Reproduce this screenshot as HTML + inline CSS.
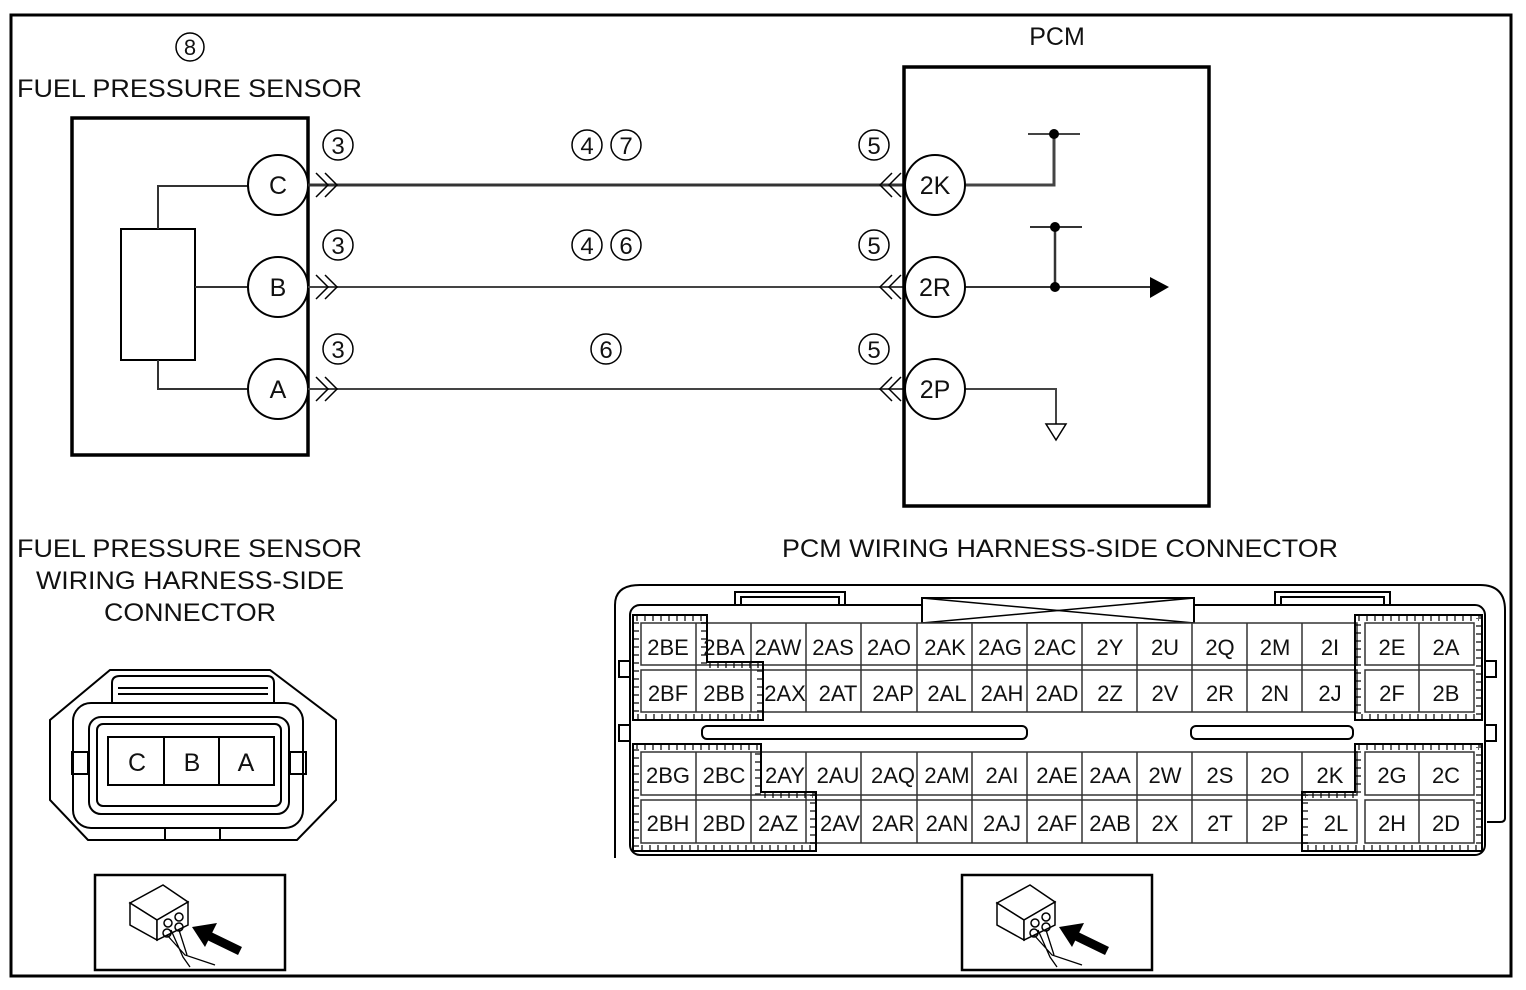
<!DOCTYPE html>
<html><head><meta charset="utf-8"><style>
html,body{margin:0;padding:0;background:#fff}
svg{display:block}
text{font-family:"Liberation Sans",sans-serif;fill:#111}
</style></head><body>
<svg width="1526" height="990" viewBox="0 0 1526 990" xmlns="http://www.w3.org/2000/svg">
<defs>
<g id="icon">
<rect x="0" y="0" width="190" height="95" fill="#fff" stroke="#000" stroke-width="2.5"/>
<polygon points="35,28 68,10 93,27 62,45" fill="#fff" stroke="#000" stroke-width="1.5"/>
<polygon points="35,28 62,45 62,65 35,50" fill="#fff" stroke="#000" stroke-width="1.5"/>
<polygon points="62,45 93,27 93,50 62,65" fill="#fff" stroke="#000" stroke-width="1.5"/>
<circle cx="73" cy="48" r="4" fill="none" stroke="#000" stroke-width="1.5"/>
<circle cx="84" cy="42" r="4" fill="none" stroke="#000" stroke-width="1.5"/>
<circle cx="72" cy="58" r="4" fill="none" stroke="#000" stroke-width="1.5"/>
<circle cx="84" cy="52" r="4" fill="none" stroke="#000" stroke-width="1.5"/>
<path d="M72,60 L90,80 L120,90 M76,55 L88,82 L95,92 M84,55 L92,80" fill="none" stroke="#000" stroke-width="1.3"/>
<line x1="112" y1="60" x2="145" y2="76" stroke="#000" stroke-width="9"/>
<polygon points="97,52 122,48 110,72" fill="#000"/>
</g>
</defs>
<rect x="11" y="15" width="1500" height="961" fill="none" stroke="#000" stroke-width="3"/>

<circle cx="190" cy="47" r="14" fill="none" stroke="#000" stroke-width="1.5"/>
<text x="190" y="55" font-size="22" text-anchor="middle">8</text>
<text x="17" y="97" font-size="25" textLength="345" lengthAdjust="spacingAndGlyphs">FUEL PRESSURE SENSOR</text>
<text x="1057" y="45" font-size="25" text-anchor="middle">PCM</text>

<rect x="72" y="118" width="236" height="337" fill="none" stroke="#000" stroke-width="3.5"/>
<rect x="121" y="229" width="74" height="131" fill="#fff" stroke="#000" stroke-width="2"/>
<path d="M158,229 V186 H248 M195,287 H248 M158,360 V389 H248" fill="none" stroke="#333" stroke-width="2"/>
<g fill="#fff" stroke="#000" stroke-width="2">
<circle cx="278" cy="185" r="30"/><circle cx="278" cy="287" r="30"/><circle cx="278" cy="389" r="30"/>
</g>
<g font-size="25" text-anchor="middle">
<text x="278" y="194">C</text><text x="278" y="296">B</text><text x="278" y="398">A</text>
</g>

<line x1="308" y1="185" x2="904" y2="185" stroke="#333" stroke-width="3"/>
<line x1="308" y1="287" x2="904" y2="287" stroke="#444" stroke-width="2"/>
<line x1="308" y1="389" x2="904" y2="389" stroke="#444" stroke-width="2"/>
<g fill="none" stroke="#000" stroke-width="1.5">
<path d="M316,173 L328,185 L316,197 M325,173 L337,185 L325,197"/>
<path d="M316,275 L328,287 L316,299 M325,275 L337,287 L325,299"/>
<path d="M316,377 L328,389 L316,401 M325,377 L337,389 L325,401"/>
<path d="M892,173 L880,185 L892,197 M901,173 L889,185 L901,197"/>
<path d="M892,275 L880,287 L892,299 M901,275 L889,287 L901,299"/>
<path d="M892,377 L880,389 L892,401 M901,377 L889,389 L901,401"/>
</g>
<g fill="none" stroke="#000" stroke-width="1.5">
<circle cx="338" cy="145" r="15"/><circle cx="338" cy="245" r="15"/><circle cx="338" cy="349" r="15"/>
<circle cx="587" cy="145" r="15"/><circle cx="626" cy="145" r="15"/>
<circle cx="587" cy="245" r="15"/><circle cx="626" cy="245" r="15"/>
<circle cx="606" cy="349" r="15"/>
<circle cx="874" cy="145" r="15"/><circle cx="874" cy="245" r="15"/><circle cx="874" cy="349" r="15"/>
</g>
<g font-size="24" text-anchor="middle">
<text x="338" y="154">3</text><text x="338" y="254">3</text><text x="338" y="358">3</text>
<text x="587" y="154">4</text><text x="626" y="154">7</text>
<text x="587" y="254">4</text><text x="626" y="254">6</text>
<text x="606" y="358">6</text>
<text x="874" y="154">5</text><text x="874" y="254">5</text><text x="874" y="358">5</text>
</g>

<rect x="904" y="67" width="305" height="439" fill="none" stroke="#000" stroke-width="3.5"/>
<path d="M965,185 H1054 V134" fill="none" stroke="#444" stroke-width="3"/>
<line x1="1028" y1="134" x2="1080" y2="134" stroke="#444" stroke-width="2"/>
<circle cx="1054" cy="134" r="5" fill="#000"/>
<line x1="965" y1="287" x2="1152" y2="287" stroke="#333" stroke-width="2"/>
<polygon points="1150,277 1169,287 1150,298" fill="#000"/>
<line x1="1055" y1="227" x2="1055" y2="287" stroke="#333" stroke-width="2.5"/>
<line x1="1030" y1="227" x2="1082" y2="227" stroke="#333" stroke-width="2"/>
<circle cx="1055" cy="227" r="5" fill="#000"/><circle cx="1055" cy="287" r="5" fill="#000"/>
<path d="M965,389 H1056 V424" fill="none" stroke="#444" stroke-width="2"/>
<polygon points="1046,424 1066,424 1056,440" fill="#fff" stroke="#000" stroke-width="1.5"/>
<g fill="#fff" stroke="#000" stroke-width="2">
<circle cx="935" cy="185" r="30"/><circle cx="935" cy="287" r="30"/><circle cx="935" cy="389" r="30"/>
</g>
<g font-size="25" text-anchor="middle">
<text x="935" y="194">2K</text><text x="935" y="296">2R</text><text x="935" y="398">2P</text>
</g>

<g font-size="25">
<text x="17" y="557" textLength="345" lengthAdjust="spacingAndGlyphs">FUEL PRESSURE SENSOR</text>
<text x="36" y="589" textLength="308" lengthAdjust="spacingAndGlyphs">WIRING HARNESS-SIDE</text>
<text x="104" y="621" textLength="172" lengthAdjust="spacingAndGlyphs">CONNECTOR</text>
<text x="782" y="557" textLength="556" lengthAdjust="spacingAndGlyphs">PCM WIRING HARNESS-SIDE CONNECTOR</text>
</g>

<g fill="none" stroke="#000" stroke-width="2">
<polygon points="110,670 270,670 336,720 336,800 297,840 88,840 50,800 50,720"/>
<path d="M112,703 V683 Q112,676 120,676 H267 Q274,676 274,683 V703"/>
<line x1="118" y1="688" x2="268" y2="688"/><line x1="118" y1="694" x2="268" y2="694"/>
<rect x="73" y="703" width="230" height="125" rx="18"/>
<rect x="89" y="717" width="200" height="97" rx="12"/>
<rect x="97" y="724" width="184" height="82" rx="6"/>
<rect x="108" y="737" width="166" height="48" fill="#fff"/>
<line x1="164" y1="737" x2="164" y2="785"/><line x1="219" y1="737" x2="219" y2="785"/>
<rect x="72" y="752" width="16" height="22"/><rect x="290" y="752" width="16" height="22"/>
<line x1="165" y1="828" x2="165" y2="840"/><line x1="220" y1="828" x2="220" y2="840"/>
</g>
<g font-size="25" text-anchor="middle">
<text x="137" y="771">C</text><text x="192" y="771">B</text><text x="246" y="771">A</text>
</g>

<use href="#icon" transform="translate(95,875)"/>
<use href="#icon" transform="translate(962,875)"/>

<g fill="none" stroke="#000" stroke-width="2">
<path d="M615,858 V605 Q615,585 640,585 H1480 Q1505,585 1505,610 V818 Q1505,822 1500,822 H1487"/>
<rect x="630" y="605" width="855" height="250" rx="10"/>
<path d="M735,605 V592 H845 V605 M741,605 V597 H839 V605"/>
<path d="M1275,605 V592 H1390 V605 M1281,605 V597 H1384 V605"/>
<rect x="922" y="598" width="272" height="25" fill="#fff"/>
<path d="M922,598 L1194,623 M922,623 L1194,598" stroke-width="1.5"/>
<rect x="619" y="661" width="11" height="16"/><rect x="619" y="725" width="11" height="16"/>
<rect x="1485" y="661" width="11" height="16"/><rect x="1485" y="725" width="11" height="16"/>
<rect x="702" y="726" width="325" height="13" rx="5"/>
<rect x="1191" y="726" width="162" height="13" rx="5"/>
</g>
<g fill="#fff" stroke="#333" stroke-width="1.5">
<rect x="641" y="623" width="716" height="42"/><rect x="641" y="670" width="716" height="42"/>
<rect x="641" y="752" width="716" height="43"/><rect x="641" y="800" width="716" height="43"/>
<rect x="1365" y="623" width="109" height="42"/><rect x="1365" y="670" width="109" height="42"/>
<rect x="1365" y="752" width="109" height="43"/><rect x="1365" y="800" width="109" height="43"/>
</g>
<g stroke="#333" stroke-width="1.5">
<path d="M696,623V712M751,623V712M806,623V712M861,623V712M917,623V712M972,623V712M1027,623V712M1082,623V712M1137,623V712M1192,623V712M1247,623V712M1302,623V712M1419,623V712"/>
<path d="M696,752V843M751,752V843M806,752V843M861,752V843M917,752V843M972,752V843M1027,752V843M1082,752V843M1137,752V843M1192,752V843M1247,752V843M1302,752V843M1419,752V843"/>
</g>
<g fill="none" stroke="#000">
<polygon points="636,618 704,618 704,665 760,665 760,717 636,717" stroke-width="6" stroke-dasharray="2 6" stroke-opacity="0.6"/>
<polygon points="636,747 758,747 758,795 813,795 813,848 636,848" stroke-width="6" stroke-dasharray="2 6" stroke-opacity="0.6"/>
<polygon points="1358,618 1479,618 1479,717 1358,717" stroke-width="6" stroke-dasharray="2 6" stroke-opacity="0.6"/>
<polygon points="1358,747 1479,747 1479,848 1305,848 1305,795 1358,795" stroke-width="6" stroke-dasharray="2 6" stroke-opacity="0.6"/>
<polygon points="633,615 707,615 707,662 763,662 763,720 633,720" stroke-width="2"/>
<polygon points="633,744 761,744 761,792 816,792 816,851 633,851" stroke-width="2"/>
<polygon points="1355,615 1482,615 1482,720 1355,720" stroke-width="2"/>
<polygon points="1355,744 1482,744 1482,851 1302,851 1302,792 1355,792" stroke-width="2"/>
</g>
<g font-size="22" text-anchor="middle">
<text x="668" y="655">2BE</text><text x="724" y="655">2BA</text><text x="778" y="655">2AW</text><text x="833" y="655">2AS</text><text x="889" y="655">2AO</text><text x="945" y="655">2AK</text><text x="1000" y="655">2AG</text><text x="1055" y="655">2AC</text><text x="1110" y="655">2Y</text><text x="1165" y="655">2U</text><text x="1220" y="655">2Q</text><text x="1275" y="655">2M</text><text x="1330" y="655">2I</text><text x="1392" y="655">2E</text><text x="1446" y="655">2A</text>
<text x="668" y="701">2BF</text><text x="724" y="701">2BB</text><text x="785" y="701">2AX</text><text x="838" y="701">2AT</text><text x="893" y="701">2AP</text><text x="947" y="701">2AL</text><text x="1002" y="701">2AH</text><text x="1057" y="701">2AD</text><text x="1110" y="701">2Z</text><text x="1165" y="701">2V</text><text x="1220" y="701">2R</text><text x="1275" y="701">2N</text><text x="1330" y="701">2J</text><text x="1392" y="701">2F</text><text x="1446" y="701">2B</text>
<text x="668" y="783">2BG</text><text x="724" y="783">2BC</text><text x="785" y="783">2AY</text><text x="838" y="783">2AU</text><text x="893" y="783">2AQ</text><text x="947" y="783">2AM</text><text x="1002" y="783">2AI</text><text x="1057" y="783">2AE</text><text x="1110" y="783">2AA</text><text x="1165" y="783">2W</text><text x="1220" y="783">2S</text><text x="1275" y="783">2O</text><text x="1330" y="783">2K</text><text x="1392" y="783">2G</text><text x="1446" y="783">2C</text>
<text x="668" y="831">2BH</text><text x="724" y="831">2BD</text><text x="778" y="831">2AZ</text><text x="840" y="831">2AV</text><text x="893" y="831">2AR</text><text x="947" y="831">2AN</text><text x="1002" y="831">2AJ</text><text x="1057" y="831">2AF</text><text x="1110" y="831">2AB</text><text x="1165" y="831">2X</text><text x="1220" y="831">2T</text><text x="1275" y="831">2P</text><text x="1336" y="831">2L</text><text x="1392" y="831">2H</text><text x="1446" y="831">2D</text>
</g>
</svg>
</body></html>
